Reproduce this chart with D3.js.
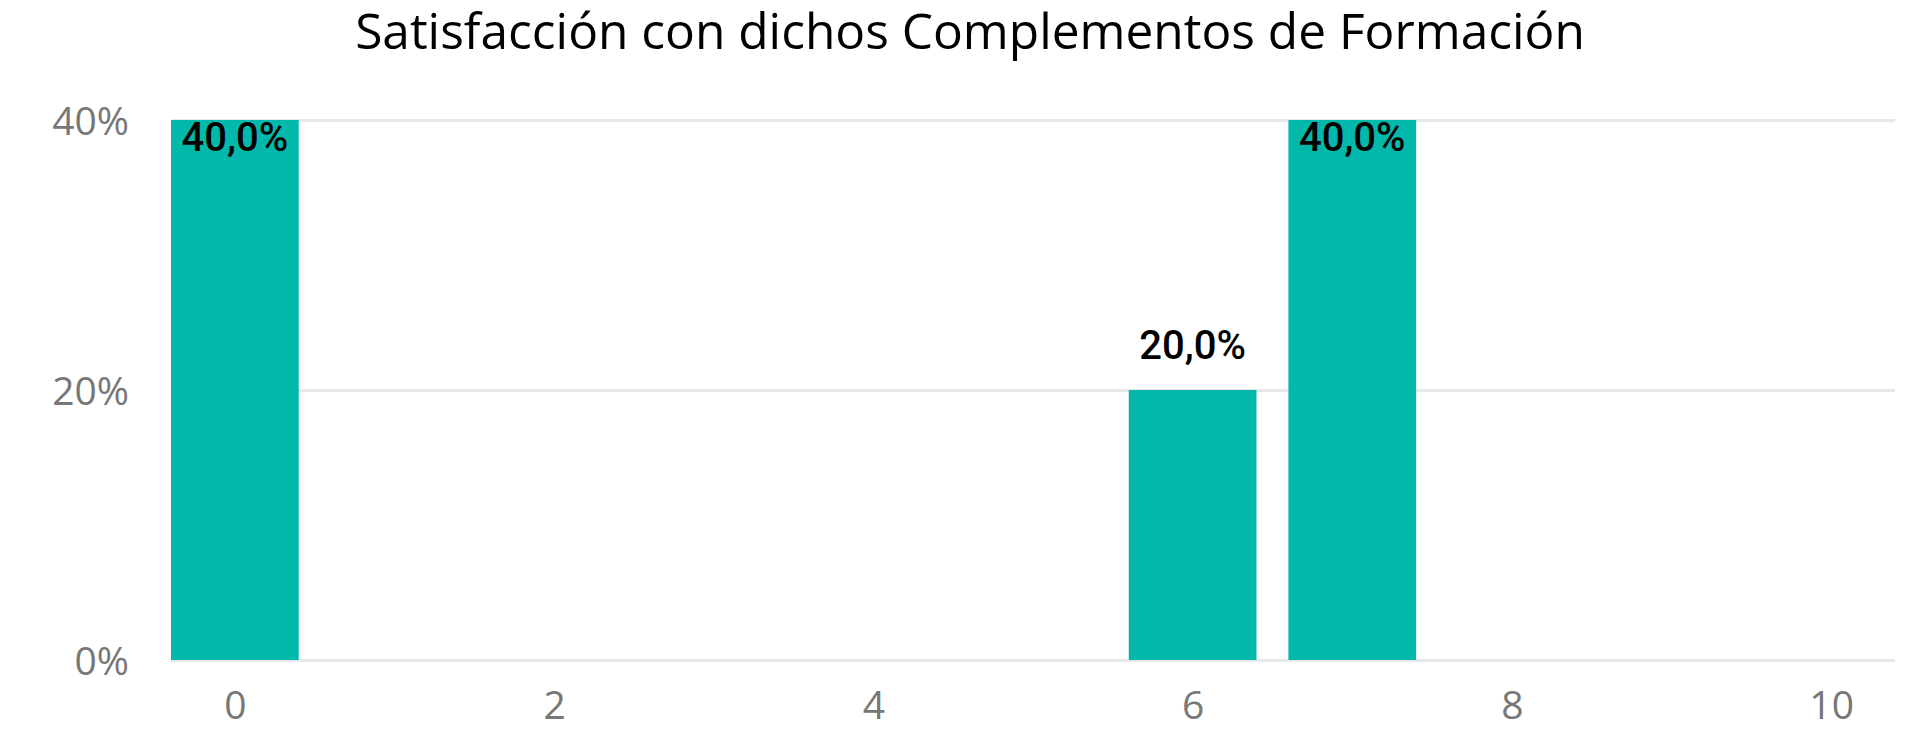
<!DOCTYPE html>
<html>
<head>
<meta charset="utf-8">
<script src="https://cdn.jsdelivr.net/npm/d3@7/dist/d3.min.js"></script>
<style>
    html, body { margin: 0; padding: 0; background: #fff; }
    svg { display: block; }
</style>
</head>
<body>
<div id="js-chart"></div>
<script>
// 数据
var chartTitle = "Satisfacción con dichos Complementos de Formación";
var scores = [0, 6, 7];
var shares = [0.4, 0.2, 0.4];
var xTicks = [0, 2, 4, 6, 8, 10];
var yTicks = [0, 0.2, 0.4];

var width = 1912, height = 734;
var barColor = "#01b8aa";
var axisFont = "'Segoe UI', 'Open Sans', 'Noto Sans', sans-serif";

var svg = d3.select("#js-chart").append("svg")
    .attr("width", width)
    .attr("height", height);

// 坐标比例
var x = d3.scaleLinear()
    .domain([-0.4, 10.4])
    .range([171, 1895]);
var y = d3.scaleLinear()
    .domain([0, 0.4])
    .range([660, 120]);
var barW = x(0.4) - x(-0.4);

// 网格线
svg.append("g").selectAll("line")
    .data(yTicks)
    .enter().append("line")
    .attr("x1", x.range()[0])
    .attr("x2", x.range()[1])
    .attr("y1", function (d) { return y(d) + 0.5; })
    .attr("y2", function (d) { return y(d) + 0.5; })
    .attr("stroke", "#e8e8e8")
    .attr("stroke-width", 3);

// y 轴标签
var yAxis = d3.axisLeft(y)
    .tickValues(yTicks)
    .tickFormat(d3.format(".0%"))
    .tickSize(0)
    .tickPadding(0);
var gy = svg.append("g")
    .attr("transform", "translate(129,0)")
    .call(yAxis);
gy.select(".domain").remove();
gy.selectAll("text")
    .attr("font-family", axisFont)
    .attr("font-size", 39)
    .attr("fill", "#777")
    .attr("dy", "0.36em");

// x 轴标签
var xAxis = d3.axisBottom(x)
    .tickValues(xTicks)
    .tickSize(0)
    .tickPadding(0);
var gx = svg.append("g")
    .attr("transform", "translate(0,705)")
    .call(xAxis);
gx.select(".domain").remove();
gx.selectAll("text")
    .attr("font-family", axisFont)
    .attr("font-size", 39)
    .attr("fill", "#777")
    .attr("dy", "0.36em");

// 柱子
var rows = scores.map(function (s, i) { return {score: s, share: shares[i]}; });
svg.append("g").selectAll("rect")
    .data(rows)
    .enter().append("rect")
    .attr("x", function (d) { return x(d.score) - barW / 2; })
    .attr("width", barW)
    .attr("y", function (d) { return y(d.share); })
    .attr("height", function (d) { return y(0) - y(d.share); })
    .attr("fill", barColor);

// 数据标签，顶部放不下时放到柱子里
var fmt = function (v) { return d3.format(".1f")(v * 100).replace(".", ",") + "%"; };
svg.append("g").selectAll("text")
    .data(rows)
    .enter().append("text")
    .attr("x", function (d) { return x(d.score); })
    .attr("y", function (d) {
        var top = y(d.share);
        return top - 31 < 110 ? top + 31 : top - 31;
    })
    .attr("text-anchor", "middle")
    .attr("font-family", "Roboto, sans-serif")
    .attr("font-weight", 500)
    .attr("font-size", 40)
    .attr("fill", "#000")
    .text(function (d) { return fmt(d.share); });

// 标题
var title = svg.append("text")
    .attr("x", 970)
    .attr("y", 49)
    .attr("text-anchor", "middle")
    .attr("font-family", axisFont)
    .attr("font-size", 44)
    .attr("fill", "#000")
    .text(chartTitle);
var tw = title.node().getComputedTextLength();
title.attr("font-size", 44 * 1230 / tw);
</script>
</body>
</html>
